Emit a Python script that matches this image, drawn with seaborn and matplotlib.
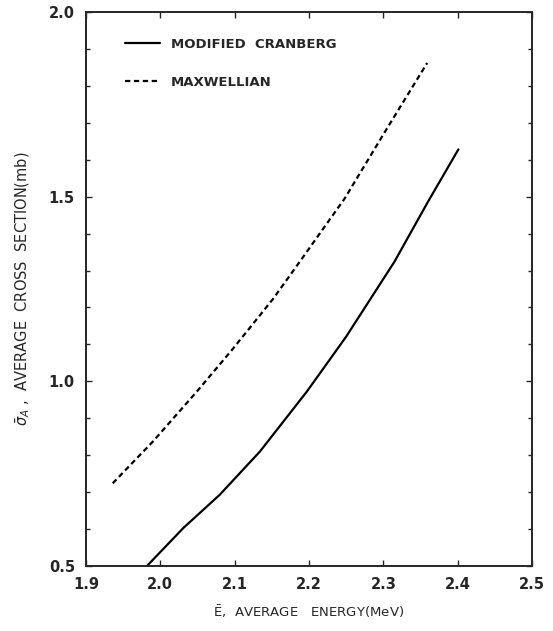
import numpy as np
import pandas as pd
import seaborn as sns
import matplotlib
matplotlib.use("Agg")
import matplotlib.pyplot as plt
from matplotlib.ticker import MultipleLocator

sns.set_style("ticks")
plt.rcParams['font.family'] = ['DejaVu Sans']

# data
cranberg_E = [1.982, 2.031, 2.080, 2.134, 2.197, 2.250, 2.315, 2.360, 2.401]
cranberg_sigma = [0.500, 0.603, 0.693, 0.810, 0.972, 1.121, 1.324, 1.486, 1.628]
maxwell_E = [1.936, 1.990, 2.049, 2.098, 2.152, 2.189, 2.248, 2.302, 2.359]
maxwell_sigma = [0.724, 0.837, 0.972, 1.089, 1.224, 1.328, 1.495, 1.675, 1.862]
series_names = ["MODIFIED  CRANBERG", "MAXWELLIAN"]

df = pd.concat([
    pd.DataFrame({"E": cranberg_E, "sigma": cranberg_sigma, "spectrum": series_names[0]}),
    pd.DataFrame({"E": maxwell_E, "sigma": maxwell_sigma, "spectrum": series_names[1]}),
])

fig = plt.figure(figsize=(5.53, 6.31), dpi=100)
ax = fig.add_axes([0.1555, 0.103, 0.8065, 0.878])

sns.lineplot(data=df, x="E", y="sigma", hue="spectrum", style="spectrum",
             palette={series_names[0]: "black", series_names[1]: "black"},
             dashes={series_names[0]: "", series_names[1]: (2.4, 1.6)},
             linewidth=1.6, sort=False, ax=ax)

ax.set_xlim(1.9, 2.5)
ax.set_ylim(0.5, 2.0)
ax.set_xticks([1.9, 2.0, 2.1, 2.2, 2.3, 2.4, 2.5])
ax.set_xticklabels(["1.9", "2.0", "2.1", "2.2", "2.3", "2.4", "2.5"])
ax.set_yticks([0.5, 1.0, 1.5, 2.0])
ax.set_yticklabels(["0.5", "1.0", "1.5", "2.0"])
ax.yaxis.set_minor_locator(MultipleLocator(0.1))
ax.tick_params(axis="both", which="major", direction="in", length=4, width=1,
               labelsize=10.5, top=True, right=True, pad=8)
ax.tick_params(axis="y", which="minor", direction="in", length=3, width=1,
               right=True, left=True)
for sp in ax.spines.values():
    sp.set_linewidth(1.4)
    sp.set_visible(True)
for lab in ax.get_xticklabels() + ax.get_yticklabels():
    lab.set_fontweight("bold")

ax.set_xlabel(r"$\bar{\mathrm{E}}$,  AVERAGE   ENERGY(MeV)", fontsize=9.5, labelpad=8)
ax.set_ylabel(r"$\bar{\sigma}_A$ ,  AVERAGE  CROSS  SECTION(mb)", fontsize=10.5, labelpad=12)

leg = ax.legend(loc="upper left", bbox_to_anchor=(0.06, 0.975), frameon=False,
                handlelength=2.7, handletextpad=0.8, labelspacing=1.9,
                prop={"size": 9.5, "weight": "bold"})

fig.savefig("out.png", dpi=100)
